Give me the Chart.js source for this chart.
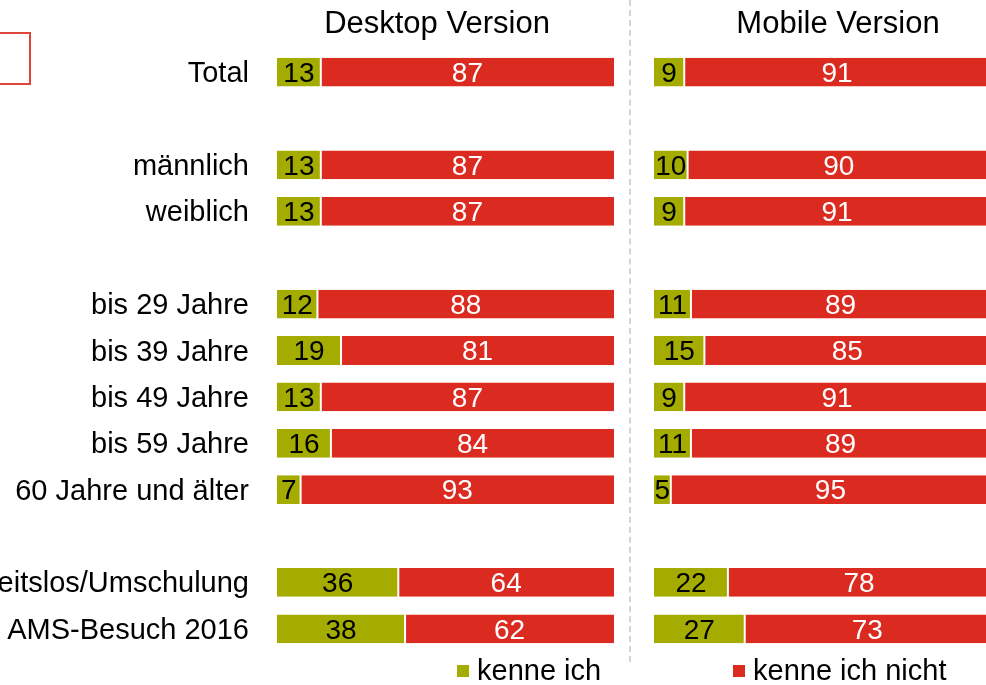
<!DOCTYPE html>
<html>
<head>
<meta charset="utf-8">
<script src="https://cdn.jsdelivr.net/npm/chart.js@4.4.1/dist/chart.umd.min.js"></script>
<style>
  html, body { margin: 0; padding: 0; background: #fff; overflow: hidden; }
  body { width: 986px; height: 685px; position: relative; font-family: "Liberation Sans", Arial, sans-serif; }
  canvas { position: absolute; top: 0; }
  .title { position: absolute; top: 5px; font-size: 31px; color: #000; white-space: nowrap; transform: translateX(-50%); }
  .sep { position: absolute; left: 629px; top: 0; height: 662px; border-left: 2px dashed #d4d4d4; }
  .frame { position: absolute; left: -3px; top: 32px; width: 30px; height: 49px; border: 2px solid #e0453a; }
  .leg { position: absolute; top: 654px; font-size: 29px; color: #000; white-space: nowrap; }
  .leg i { display: inline-block; width: 12px; height: 12px; margin-right: 8px; vertical-align: 3px; }
</style>
</head>
<body>
<canvas id="desktop" width="630" height="685" style="left:0"></canvas>
<canvas id="mobile" width="376" height="685" style="left:630px"></canvas>
<div class="frame"></div>
<div class="sep"></div>
<div class="title" style="left:437px">Desktop Version</div>
<div class="title" style="left:838px">Mobile Version</div>
<div class="leg" style="left:457px"><i style="background:#a5ac00"></i>kenne ich</div>
<div class="leg" style="left:733px"><i style="background:#db2a1f"></i>kenne ich nicht</div>
<script>
const categories = ['Total', '', 'männlich', 'weiblich', '', 'bis 29 Jahre', 'bis 39 Jahre', 'bis 49 Jahre',
  'bis 59 Jahre', '60 Jahre und älter', '', 'arbeitslos/Umschulung', 'AMS-Besuch 2016'];
const desktopKnow = [13, null, 13, 13, null, 12, 19, 13, 16, 7, null, 36, 38];
const desktopNotKnow = [87, null, 87, 87, null, 88, 81, 87, 84, 93, null, 64, 62];
const mobileKnow = [9, null, 10, 9, null, 11, 15, 9, 11, 5, null, 22, 27];
const mobileNotKnow = [91, null, 90, 91, null, 89, 85, 91, 89, 95, null, 78, 73];

const GREEN = '#a5ac00';
const RED = '#db2a1f';
const FONT = '"Liberation Sans", Arial, sans-serif';

// draws the value in the middle of every bar segment
const barLabels = {
  id: 'barLabels',
  afterDatasetsDraw(chart) {
    const ctx = chart.ctx;
    ctx.save();
    ctx.font = '28px ' + FONT;
    ctx.textAlign = 'center';
    ctx.textBaseline = 'middle';
    chart.data.datasets.forEach((ds, i) => {
      chart.getDatasetMeta(i).data.forEach((bar, j) => {
        const v = ds.data[j];
        if (v == null) return;
        const p = bar.getProps(['x', 'y', 'base'], true);
        ctx.fillStyle = ds.labelColor;
        ctx.fillText(String(v), (p.x + p.base) / 2, p.y + 2);
      });
    });
    ctx.restore();
  }
};

function makeChart(id, know, notKnow, showLabels, pad) {
  return new Chart(document.getElementById(id), {
    type: 'bar',
    data: {
      labels: categories,
      datasets: [
        { label: 'kenne ich', data: know, backgroundColor: GREEN, labelColor: '#000',
          borderColor: '#fff', borderWidth: { left: 0, top: 0, bottom: 0, right: 1 }, borderSkipped: false },
        { label: 'kenne ich nicht', data: notKnow, backgroundColor: RED, labelColor: '#fff',
          borderColor: '#fff', borderWidth: { left: 1, top: 0, bottom: 0, right: 0 }, borderSkipped: false }
      ]
    },
    options: {
      indexAxis: 'y',
      responsive: false,
      animation: false,
      devicePixelRatio: 1,
      layout: { padding: pad },
      datasets: { bar: { barPercentage: 0.62, categoryPercentage: 1 } },
      plugins: { legend: { display: false }, tooltip: { enabled: false }, title: { display: false } },
      scales: {
        x: { stacked: true, min: 0, max: 100, display: false },
        y: {
          stacked: true,
          display: showLabels,
          grid: { display: false, drawTicks: false },
          border: { display: false },
          ticks: { color: '#000', padding: 28, labelOffset: 2, autoSkip: false, font: { family: FONT, size: 29 } },
          afterFit(scale) {
            if (!showLabels) return;
            scale.width = 277;
            scale.paddingTop = 0;
            scale.paddingBottom = 0;
          }
        }
      }
    },
    plugins: [barLabels]
  });
}

makeChart('desktop', desktopKnow, desktopNotKnow, true, { top: 49, bottom: 33, left: 0, right: 16 });
makeChart('mobile', mobileKnow, mobileNotKnow, false, { top: 49, bottom: 33, left: 24, right: 16 });
</script>
</body>
</html>
